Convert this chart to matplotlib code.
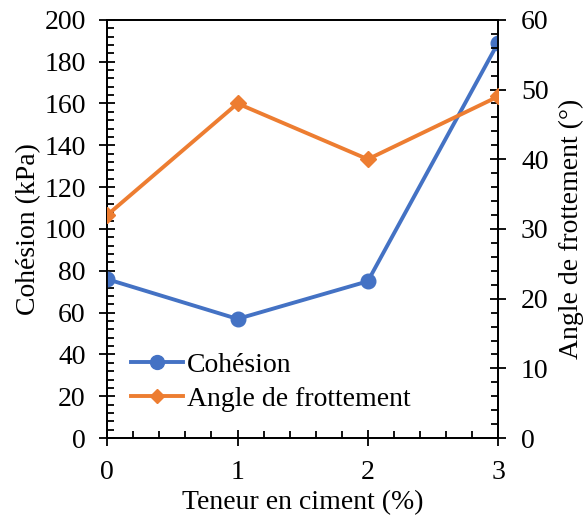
import matplotlib.pyplot as plt
from matplotlib.ticker import MultipleLocator
from matplotlib.lines import Line2D

plt.rcParams['font.family'] = ['Liberation Serif', 'DejaVu Serif']
plt.rcParams['font.size'] = 20

teneur = [0, 1, 2, 3]
cohesion = [76, 57, 75, 189]
angle = [32, 48, 40, 49]

blue = '#4472C4'
orange = '#ED7D31'

fig = plt.figure(figsize=(5.86, 5.21), dpi=100)
ax = fig.add_axes([0.183, 0.159, 0.667, 0.803])
ax2 = ax.twinx()

ax.plot(teneur, cohesion, color=blue, lw=2.8, marker='o', ms=10.5, zorder=3)
ax2.plot(teneur, angle, color=orange, lw=2.8, marker='D', ms=8, zorder=3)

ax.set_xlim(0, 3)
ax.set_ylim(0, 200)
ax2.set_ylim(0, 60)

ax.xaxis.set_major_locator(MultipleLocator(1))
ax.xaxis.set_minor_locator(MultipleLocator(0.2))
ax.yaxis.set_major_locator(MultipleLocator(20))
ax.yaxis.set_minor_locator(MultipleLocator(4))
ax2.yaxis.set_major_locator(MultipleLocator(10))
ax2.yaxis.set_minor_locator(MultipleLocator(2))

for a in (ax, ax2):
    for s in a.spines.values():
        s.set_linewidth(1.3)
    a.tick_params(which='major', direction='inout', length=11, width=1.3, pad=10)
    a.tick_params(which='minor', direction='in', length=5, width=1.3)
ax2.tick_params(which='major', pad=11)

ax.set_xlabel('Teneur en ciment (%)', labelpad=4)
ax.set_ylabel('Cohésion (kPa)', labelpad=2)
ax2.set_ylabel('Angle de frottement (°)', labelpad=7)

handles = [
    Line2D([], [], color=blue, lw=2.8, marker='o', ms=10),
    Line2D([], [], color=orange, lw=2.8, marker='D', ms=7.5),
]
ax.legend(handles, ['Cohésion', 'Angle de frottement'], loc='lower left',
          bbox_to_anchor=(0.033, 0.036), frameon=False, handlelength=1.85,
          handletextpad=0.15, labelspacing=0.3, borderaxespad=0)

fig.savefig('out.png', dpi=100)
